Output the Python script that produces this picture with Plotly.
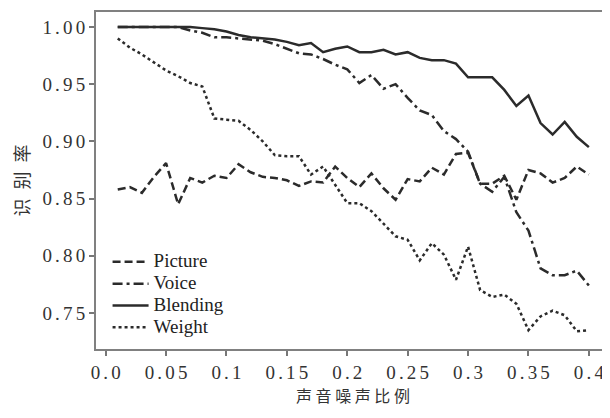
import plotly.graph_objects as go

noise_ratio = [0.01, 0.02, 0.03, 0.04, 0.05, 0.06, 0.07, 0.08, 0.09, 0.10,
               0.11, 0.12, 0.13, 0.14, 0.15, 0.16, 0.17, 0.18, 0.19, 0.20,
               0.21, 0.22, 0.23, 0.24, 0.25, 0.26, 0.27, 0.28, 0.29, 0.30,
               0.31, 0.32, 0.33, 0.34, 0.35, 0.36, 0.37, 0.38, 0.39, 0.40]

picture = [0.858, 0.860, 0.855, 0.869, 0.881, 0.845, 0.868, 0.864, 0.870, 0.868,
           0.880, 0.873, 0.869, 0.868, 0.866, 0.861, 0.865, 0.864, 0.878, 0.868,
           0.860, 0.872, 0.859, 0.849, 0.867, 0.865, 0.877, 0.871, 0.889, 0.890,
           0.863, 0.863, 0.870, 0.849, 0.875, 0.872, 0.864, 0.868, 0.878, 0.871]

voice = [1.000, 1.000, 1.000, 1.000, 1.000, 1.000, 0.997, 0.995, 0.991, 0.991,
         0.990, 0.989, 0.988, 0.985, 0.981, 0.977, 0.976, 0.972, 0.967, 0.963,
         0.951, 0.958, 0.946, 0.950, 0.938, 0.927, 0.923, 0.909, 0.902, 0.891,
         0.863, 0.856, 0.869, 0.838, 0.822, 0.789, 0.783, 0.783, 0.787, 0.774]

blending = [1.000, 1.000, 1.000, 1.000, 1.000, 1.000, 1.000, 0.999, 0.998, 0.996,
            0.993, 0.991, 0.990, 0.989, 0.987, 0.984, 0.986, 0.978, 0.981, 0.983,
            0.978, 0.978, 0.980, 0.976, 0.978, 0.973, 0.971, 0.971, 0.968, 0.956,
            0.956, 0.956, 0.945, 0.931, 0.940, 0.916, 0.906, 0.917, 0.904, 0.895]

weight = [0.990, 0.982, 0.976, 0.969, 0.962, 0.957, 0.951, 0.948, 0.920, 0.919,
          0.918, 0.910, 0.900, 0.888, 0.887, 0.887, 0.871, 0.878, 0.862, 0.846,
          0.846, 0.839, 0.828, 0.817, 0.814, 0.796, 0.811, 0.801, 0.779, 0.808,
          0.770, 0.764, 0.766, 0.758, 0.735, 0.747, 0.752, 0.748, 0.734, 0.735]

series_names = ["Picture", "Voice", "Blending", "Weight"]

x_tick_vals = [0.0, 0.05, 0.1, 0.15, 0.2, 0.25, 0.3, 0.35, 0.4]
x_tick_text = ["0.0", "0.05", "0.1", "0.15", "0.2", "0.25", "0.3", "0.35", "0.4"]
y_tick_vals = [0.75, 0.80, 0.85, 0.90, 0.95, 1.00]
y_tick_text = ["0.75", "0.80", "0.85", "0.90", "0.95", "1.00"]

x_title = "声音噪声比例"
y_title = "识别率"


def spaced(s, sep="\u2006"):
    return sep.join(list(s))


LINE_COLOR = "#2b2b2b"
styles = {
    "Picture": "8px,4px",
    "Voice": "10px,4px,3px,4px",
    "Blending": "solid",
    "Weight": "3px,3px",
}
values = {"Picture": picture, "Voice": voice, "Blending": blending, "Weight": weight}

fig = go.Figure()
for name in series_names:
    fig.add_trace(go.Scatter(
        x=noise_ratio, y=values[name], mode="lines",
        name='<span style="font-size:19px">' + name + "</span>",
        line=dict(color=LINE_COLOR, width=2.5, dash=styles[name]),
    ))

serif = "Liberation Serif, Times New Roman, serif"
cjk = "Noto Sans CJK SC, sans-serif"

# the page body has an 8px margin, so the figure is sized to fill the rest
fig.update_layout(
    width=602, height=410,
    margin=dict(l=88, r=0, t=4, b=69, autoexpand=False),
    paper_bgcolor="white", plot_bgcolor="white",
    showlegend=True,
    legend=dict(
        x=0.0225, y=0.306, xanchor="left", yanchor="top",
        bgcolor="rgba(0,0,0,0)", borderwidth=0,
        font=dict(family=serif, size=14.5, color="#222"),
        itemwidth=36,
    ),
    xaxis=dict(
        automargin=False,
        range=[-0.008, 0.4175],
        tickvals=x_tick_vals,
        ticktext=[spaced(t) for t in x_tick_text],
        ticks="outside", ticklen=5, tickwidth=1.5, tickcolor="#777",
        showline=True, linecolor="#808080", linewidth=2, mirror=True,
        showgrid=False, zeroline=False,
        tickfont=dict(family=serif, size=19, color="#333"),
        title=dict(text=" ".join(list(x_title)),
                   font=dict(family=cjk, size=16, color="#333"), standoff=5),
    ),
    yaxis=dict(
        automargin=False,
        range=[0.7185, 1.0131],
        tickvals=y_tick_vals,
        ticktext=[spaced(t) for t in y_tick_text],
        ticks="outside", ticklen=5, tickwidth=1.5, tickcolor="#777",
        showline=True, linecolor="#808080", linewidth=2, mirror=False,
        showgrid=False, zeroline=False,
        tickfont=dict(family=serif, size=19, color="#333"),
        title=dict(text="\u2002".join(list(y_title)),
                   font=dict(family=cjk, size=18, color="#333"), standoff=14),
    ),
)

fig.write_html("out.html")
